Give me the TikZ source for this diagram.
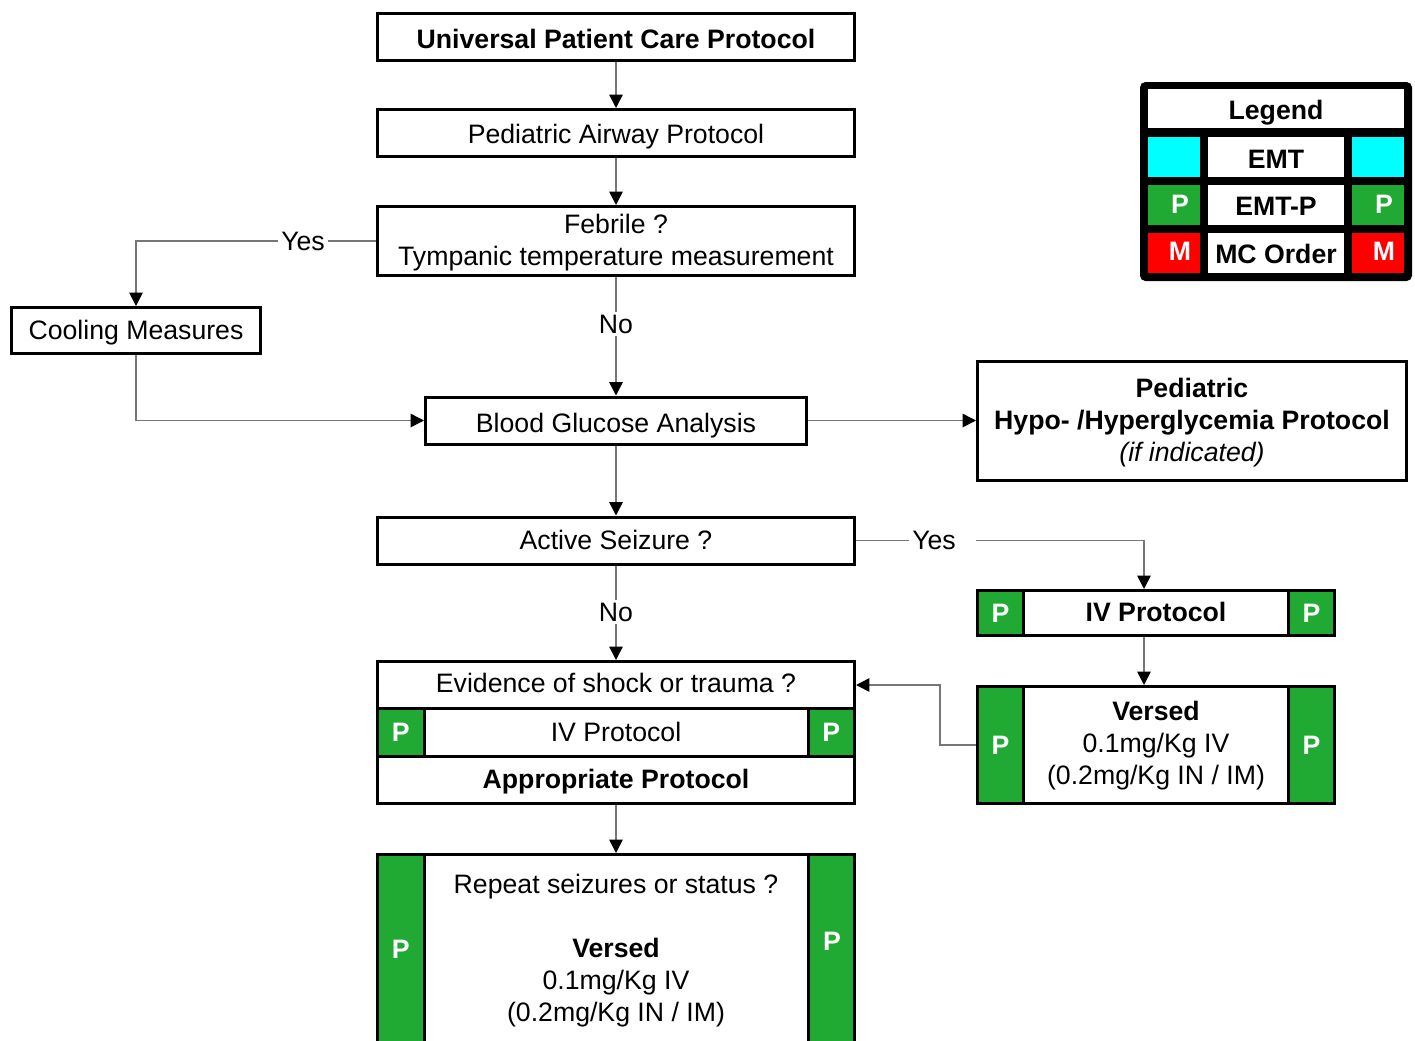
\documentclass[tikz,border=0pt]{standalone}
\usepackage{fontspec}
\setmainfont{Liberation Sans}
\usetikzlibrary{arrows.meta}
\definecolor{pgreen}{RGB}{33,170,51}
\definecolor{mred}{RGB}{255,0,0}
\definecolor{ecyan}{RGB}{0,255,255}
\definecolor{lgray}{RGB}{118,118,118}
\newcommand\dfont{\fontsize{20}{24}\selectfont}
% invisible strut that sets the height of the first line of a multi-line box
\newcommand\topstrut[1]{\rule{0pt}{#1}}
\tikzset{
  box/.style={draw, line width=2.25pt, fill=white, inner sep=0pt, align=center, font=\dfont},
  gbox/.style={box, fill=pgreen, text=white, font=\dfont\bfseries},
  sz/.style 2 args={minimum width=#1*0.75pt, minimum height=#2*0.75pt},
  th/.style={text height=#1, text depth=0.8pt},
  conn/.style={draw=lgray, line width=1.2pt},
  arr/.style={conn, -{Triangle[length=10pt,width=10pt,color=black]}},
  lbl/.style={font=\dfont, inner sep=2pt, fill=white},
  lcell/.style={fill=#1, inner sep=0pt, font=\dfont\bfseries},
  ptxt/.style={text=white, inner sep=0pt, font=\dfont\bfseries}
}
\begin{document}
\begin{tikzpicture}[x=0.75pt,y=-0.75pt]
\useasboundingbox (0,0) rectangle (1415,1040);

% main column
\node[box, sz={477}{47}, th=18.4pt, font=\dfont\bfseries] (uni) at (616,36.5) {Universal Patient Care Protocol};
\node[box, sz={477}{47}, th=16.2pt] (air) at (616,133) {Pediatric Airway Protocol};
\node[box, sz={477}{69}] (feb) at (616,241) {\topstrut{17pt}Febrile ?\\Tympanic temperature measurement};
\node[box, sz={249}{46}, th=13.8pt] (cool) at (136,330.5) {Cooling Measures};
\node[box, sz={381}{47}, th=18.4pt] (bga) at (616,420.5) {Blood Glucose Analysis};
\node[box, sz={429}{119}] (hypo) at (1192,421) {\topstrut{17.2pt}\textbf{Pediatric}\\\textbf{Hypo- /Hyperglycemia Protocol}\\\textit{(if indicated)}};
\node[box, sz={477}{47}, th=14pt] (seiz) at (616,540.5) {Active Seizure ?};

% IV protocol (right branch)
\node[box, sz={265}{45}, th=13.6pt, font=\dfont\bfseries] (ivc) at (1156,613) {IV Protocol};
\node[gbox, sz={46}{45}] (ivl) at (1000.5,613) {P};
\node[gbox, sz={46}{45}] (ivr) at (1311.5,613) {P};

% Versed (right branch)
\node[box, sz={265}{117}] (vc) at (1156,745) {\topstrut{15.4pt}\textbf{Versed}\\0.1mg/Kg IV\\(0.2mg/Kg IN / IM)};
\node[gbox, sz={46}{117}] (vl) at (1000.5,745) {P};
\node[gbox, sz={46}{117}] (vr) at (1311.5,745) {P};

% evidence of shock / trauma block
\node[box, sz={477}{47}, th=12pt] (ev) at (616,685) {Evidence of shock or trauma ?};
\node[box, sz={384}{48.4}, th=14.3pt] (ivm) at (616,732.5) {IV Protocol};
\node[gbox, sz={46.5}{48.4}] (ivml) at (400.75,732.5) {P};
\node[gbox, sz={46.5}{48.4}] (ivmr) at (831.25,732.5) {P};
\node[box, sz={477}{46.5}, th=13.2pt, font=\dfont\bfseries] (appr) at (616,780) {Appropriate Protocol};

% repeat seizures block
\node[box, sz={384}{189}] (rc) at (616,949) {\topstrut{17pt}Repeat seizures or status ?\\[24pt]\textbf{Versed}\\0.1mg/Kg IV\\(0.2mg/Kg IN / IM)};
\node[gbox, sz={46.5}{189}] (rl) at (400.75,949) {P};
\node[gbox, sz={46.5}{189}] (rr) at (831.25,949) {};
\node[ptxt] (rrp) at (832,941) {P};

% legend
\node[fill=black, rounded corners=4pt, inner sep=0pt, sz={272}{199}] (leg) at (1276,181.5) {};
\node[lcell=white, sz={256}{39}, th=18pt] (legt) at (1276,108.5) {Legend};
\node[lcell=ecyan, sz={52}{40}] (lc1) at (1174,157) {};
\node[lcell=white, sz={136}{40}, th=17.8pt] (lemt) at (1276,157) {EMT};
\node[lcell=ecyan, sz={52}{40}] (lc2) at (1378,157) {};
\node[lcell=pgreen, sz={52}{40}] (lp1) at (1174,205) {};
\node[lcell=white, sz={136}{40}, th=16.6pt] (lemtp) at (1276,205) {EMT-P};
\node[lcell=pgreen, sz={52}{40}] (lp2) at (1378,205) {};
\node[lcell=mred, sz={52}{40}] (lm1) at (1174,253) {};
\node[lcell=white, sz={136}{40}, th=16.6pt] (lmc) at (1276,253) {MC Order};
\node[lcell=mred, sz={52}{40}] (lm2) at (1378,253) {};
\node[ptxt, xshift=4.5pt, yshift=0.75pt] (lp1t) at (lp1) {P};
\node[ptxt, xshift=4.5pt, yshift=0.75pt] (lp2t) at (lp2) {P};
\node[ptxt, xshift=4.5pt, yshift=1pt] (lm1t) at (lm1) {M};
\node[ptxt, xshift=4.5pt, yshift=1pt] (lm2t) at (lm2) {M};

% connector labels and bend points
\node[lbl] (yes1) at (303,241) {Yes};
\node[lbl] (no1) at (616,324) {No};
\node[lbl] (yes2) at (934,540.5) {Yes};
\node[lbl] (no2) at (616,612) {No};
\coordinate (c1) at (136,241);
\coordinate (c2) at (976,540.5);
\coordinate (c3) at (1144,540.5);
\coordinate (c4) at (940,745);

% connectors
\draw[arr] (uni.south) -- (air.north);
\draw[arr] (air.south) -- (feb.north);
\draw[conn] (feb.west) -- (yes1.east);
\draw[arr] (yes1.west) -- (c1) -- (cool.north);
\draw[conn] (feb.south) -- (no1.north);
\draw[arr] (no1.south) -- (bga.north);
\draw[arr] (cool.south) |- (bga.west);
\draw[arr] (bga.east) -- (bga.east -| hypo.west);
\draw[arr] (bga.south) -- (seiz.north);
\draw[conn] (seiz.east) -- (yes2.west);
\draw[arr] (c2) -- (c3) -- (c3 |- ivc.north);
\draw[conn] (seiz.south) -- (no2.north);
\draw[arr] (no2.south) -- (ev.north);
\draw[arr] (ivc.south -| c3) -- (vc.north -| c3);
\draw[arr] (vl.west) -- (c4) |- (ev.east);
\draw[arr] (appr.south) -- (rc.north);
\end{tikzpicture}
\end{document}
